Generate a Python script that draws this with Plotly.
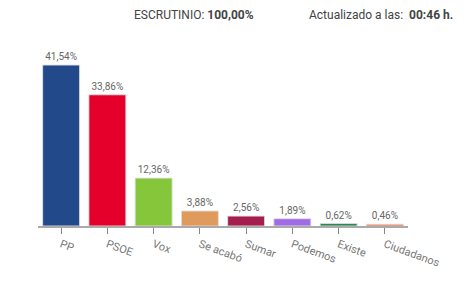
import plotly.graph_objects as go

partidos = ["PP", "PSOE", "Vox", "Se acabó", "Sumar", "Podemos", "Existe", "Ciudadanos"]
porcentajes = [41.54, 33.86, 12.36, 3.88, 2.56, 1.89, 0.62, 0.46]
colores = ["#224a8a", "#e4002b", "#85c63a", "#e09a5c", "#a51d4c", "#a26be6", "#1c7f48", "#f2643a"]
escrutinio = "100,00%"
hora = "00:46 h."

etiquetas = [f"{v:.2f}".replace(".", ",") + "%" for v in porcentajes]

L, R, T, B = 38, 60, 40, 73
W, H = 468, 299
plot_w = W - L - R
plot_h = H - T - B

def px_x(x):
    return (x - L) / plot_w

def px_y(y):
    return (H - B - y) / plot_h

fig = go.Figure(go.Bar(
    x=partidos,
    y=porcentajes,
    marker=dict(color=colores, line=dict(color="rgba(225,225,225,0.9)", width=1)),
    text=etiquetas,
    textposition="outside",
    cliponaxis=False,
    textfont=dict(family="Roboto", size=10, color="#666666"),
    hoverinfo="skip",
))

fig.update_layout(
    width=W, height=H,
    margin=dict(l=L, r=R, t=T, b=B, pad=0),
    paper_bgcolor="white", plot_bgcolor="white",
    bargap=0.2,
    showlegend=False,
    font=dict(family="Roboto", color="#444444"),
    xaxis=dict(
        showline=True, linecolor="#aaaaaa", linewidth=2,
        ticks="outside", ticklen=6, tickcolor="#888888", tickwidth=1,
        tickangle=20,
        tickfont=dict(family="Roboto", size=11, color="#777777"),
        showgrid=False, zeroline=False, fixedrange=True,
    ),
    yaxis=dict(visible=False, range=[0, 48], showgrid=False, zeroline=False, fixedrange=True),
    annotations=[
        dict(text=f"ESCRUTINIO: <b>{escrutinio}</b>", xref="paper", yref="paper",
             x=px_x(132), y=px_y(15), xanchor="left", yanchor="middle", showarrow=False,
             font=dict(family="Roboto", size=12, color="#444444")),
        dict(text=f"Actualizado a las:  <b>{hora}</b>", xref="paper", yref="paper",
             x=px_x(307), y=px_y(15), xanchor="left", yanchor="middle", showarrow=False,
             font=dict(family="Roboto", size=12, color="#444444")),
    ],
)

fig.write_html("out.html")
